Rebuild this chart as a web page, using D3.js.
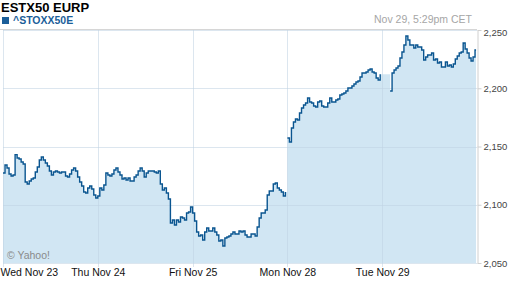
<!DOCTYPE html>
<html>
<head>
<meta charset="utf-8">
<script src="https://cdn.jsdelivr.net/npm/d3@7"></script>
<style>
  body { margin: 0; background: #fff; }
  svg { display: block; font-family: Arial, "Liberation Sans", sans-serif; }
</style>
</head>
<body>
<svg id="chart" width="512" height="288"></svg>
<script>
const title = "ESTX50 EURP";
const symbol = "^STOXX50E";
const stamp = "Nov 29, 5:29pm CET";
const dayLabels = ["Wed Nov 23", "Thu Nov 24", "Fri Nov 25", "Mon Nov 28", "Tue Nov 29"];
const yTicks = [2050, 2100, 2150, 2200, 2250];

// index level through each session, evenly spaced (null = no quote yet)
const wed = [2127.3, 2134.1, 2131.5, 2126.4, 2124.7, 2125.5, 2143.0, 2140.1, 2139.3, 2136.7,
  2135.0, 2119.5, 2117.8, 2120.4, 2122.1, 2123.0, 2128.1, 2132.4, 2138.4, 2141.0,
  2138.4, 2135.8, 2133.3, 2129.0, 2125.5, 2128.1, 2129.0, 2128.1, 2127.3, 2128.1,
  2128.1, 2124.7, 2123.8, 2126.4, 2129.8, 2131.5, 2129.0, 2123.8, 2119.5, 2116.1,
  2110.9, 2110.1, 2114.4, 2116.1, 2113.5, 2108.4, 2105.8];
const thu = [2107.5, 2114.4, 2112.7, 2117.0, 2127.3, 2125.5, 2124.7, 2126.4, 2129.8, 2131.5,
  2128.1, 2125.5, 2122.1, 2123.0, 2121.2, 2123.0, 2120.4, 2120.4, 2123.8, 2125.5,
  2129.0, 2131.5, 2129.0, 2123.8, 2127.3, 2129.0, 2129.0, 2129.0, 2128.1, 2127.3,
  2129.0, 2117.8, 2112.7, 2114.4, 2110.1, 2104.9, 2084.3, 2086.9, 2082.6, 2086.9,
  2085.2, 2089.5, 2088.6, 2086.9, 2092.9, 2093.8, 2098.1];
const fri = [2092.9, 2086.0, 2076.6, 2073.2, 2074.0, 2069.7, 2076.6, 2080.0, 2077.5, 2077.5,
  2080.0, 2076.6, 2074.0, 2068.9, 2069.7, 2064.6, 2071.5, 2072.3, 2073.2, 2074.9,
  2076.6, 2074.9, 2074.9, 2077.5, 2076.6, 2077.5, 2074.0, 2072.3, 2072.3, 2074.9,
  2074.9, 2073.2, 2080.9, 2088.6, 2092.9, 2092.9, 2095.5, 2108.4, 2111.8, 2111.8,
  2117.8, 2118.7, 2114.4, 2112.7, 2110.9, 2107.5, 2110.9];
const mon = [2157.3, 2153.9, 2165.9, 2171.0, 2173.6, 2172.8, 2178.8, 2183.1, 2185.6, 2187.3,
  2191.6, 2188.2, 2187.3, 2184.8, 2183.9, 2188.2, 2189.1, 2184.8, 2183.9, 2183.9,
  2187.3, 2191.6, 2188.2, 2188.2, 2189.9, 2190.8, 2194.2, 2195.1, 2195.9, 2197.6,
  2200.2, 2200.2, 2201.9, 2203.7, 2205.4, 2206.2, 2209.7, 2213.1, 2213.1, 2214.0,
  2215.7, 2216.5, 2214.0, 2213.1, 2208.8, 2207.1, 2212.0];
const tue = [null, null, null, null,
  2197.6, 2213.1, 2215.7, 2217.4, 2219.1, 2226.0, 2231.1, 2237.1, 2244.9, 2241.4,
  2237.1, 2237.1, 2234.6, 2237.1, 2235.4, 2235.4, 2232.8, 2224.3, 2226.8, 2228.5,
  2228.5, 2230.3, 2224.3, 2225.1, 2221.7, 2222.5, 2218.2, 2218.2, 2222.5, 2219.1,
  2220.0, 2218.2, 2220.8, 2225.1, 2227.7, 2230.3, 2231.1, 2238.8, 2233.7, 2230.3,
  2226.0, 2223.4, 2226.8, 2232.8];
const sessions = [wed, thu, fri, mon, tue];
const breakBefore = [3]; // weekend: don't join the line across it

const margin = { top: 30, right: 35, bottom: 25, left: 3 };
const width = 512, height = 288;
const svg = d3.select("#chart");

const x = d3.scaleLinear().domain([0, sessions.length]).range([margin.left, width - margin.right]);
const y = d3.scaleLinear().domain([2050, 2250]).range([height - margin.bottom, margin.top]);

// flatten to {t, v}, t in days
const points = [];
sessions.forEach((vals, d) => {
  if (breakBefore.includes(d)) points.push({ t: d, v: null });
  vals.forEach((v, k) => points.push({ t: d + k / vals.length, v }));
});
// let the last step run to the close
points.push({ t: sessions.length - 0.01, v: points[points.length - 1].v });

const defined = d => d.v != null;

svg.append("path")
  .datum(points.filter(defined))
  .attr("fill", "#d1e6f3")
  .attr("d", d3.area()
    .curve(d3.curveStepAfter)
    .x(d => x(d.t))
    .y0(y(2050))
    .y1(d => y(d.v)));

// grid
const grid = svg.append("g").attr("stroke", "#bfd2e2").attr("stroke-opacity", 0.55);
grid.selectAll(".hgrid").data(yTicks).enter().append("line")
  .attr("x1", x(0)).attr("x2", x(sessions.length))
  .attr("y1", d => Math.round(y(d)) + 0.5).attr("y2", d => Math.round(y(d)) + 0.5);
grid.selectAll(".vgrid").data(d3.range(sessions.length)).enter().append("line")
  .attr("x1", d => Math.round(x(d)) + 0.5).attr("x2", d => Math.round(x(d)) + 0.5)
  .attr("y1", margin.top).attr("y2", height - margin.bottom + 4);

// top rule
svg.append("line")
  .attr("x1", 0).attr("x2", x(sessions.length))
  .attr("y1", 29.5).attr("y2", 29.5)
  .attr("stroke", "#d6d6d6");

svg.append("path")
  .datum(points)
  .attr("fill", "none")
  .attr("stroke", "#0a5590")
  .attr("stroke-width", 1.4)
  .attr("d", d3.line()
    .defined(defined)
    .curve(d3.curveStepAfter)
    .x(d => x(d.t))
    .y(d => y(d.v)));

// right axis
const yAxis = svg.append("g")
  .attr("transform", `translate(${Math.round(x(sessions.length)) + 0.5},0)`)
  .call(d3.axisRight(y).tickValues(yTicks).tickSize(4).tickSizeOuter(0).tickFormat(d3.format(",")));
yAxis.select(".domain").attr("stroke", "#d0d0d0");
yAxis.selectAll(".tick line").attr("stroke", "#d0d0d0");
yAxis.selectAll(".tick text")
  .attr("x", 6)
  .attr("fill", "#444")
  .style("font-size", "9.5px")
  .style("font-family", "Arial, 'Liberation Sans', sans-serif")
  .attr("dy", d => d === 2250 ? "0.62em" : "0.32em");

// bottom axis
const xAxis = svg.append("g")
  .attr("transform", `translate(0,${height - margin.bottom})`)
  .call(d3.axisBottom(x).tickValues(d3.range(sessions.length)).tickSize(0).tickFormat(i => dayLabels[i]));
xAxis.select(".domain").remove();
xAxis.selectAll(".tick text")
  .attr("y", 6)
  .attr("fill", "#111")
  .style("font-size", "10.5px")
  .style("font-family", "Arial, 'Liberation Sans', sans-serif");
xAxis.selectAll(".tick text").filter(d => d === 0)
  .attr("text-anchor", "start").attr("x", -3);

// header
svg.append("text").attr("x", 1).attr("y", 12)
  .style("font-size", "13px").style("font-weight", "bold").attr("fill", "#000")
  .text(title);
svg.append("rect").attr("x", 2).attr("y", 17).attr("width", 7).attr("height", 7).attr("fill", "#1b5e99");
svg.append("text").attr("x", 13).attr("y", 24)
  .style("font-size", "10.5px").style("font-weight", "bold").attr("fill", "#1b5e99")
  .text(symbol);
svg.append("text").attr("x", 472).attr("y", 23).attr("text-anchor", "end")
  .style("font-size", "10.5px").attr("fill", "#a6a6a6")
  .text(stamp);

svg.append("text").attr("x", 7).attr("y", 259)
  .style("font-size", "10.5px").attr("fill", "#8a8a8a")
  .text("© Yahoo!");
</script>
</body>
</html>
